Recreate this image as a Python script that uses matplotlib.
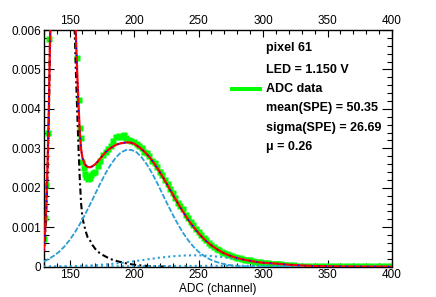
import matplotlib
matplotlib.use('Agg')
import matplotlib.pyplot as plt
from matplotlib.lines import Line2D
from matplotlib.ticker import MultipleLocator, FuncFormatter

plt.rcParams['font.family'] = ['Liberation Sans', 'DejaVu Sans']

# ADC histogram (green squares)
adc_x = [130, 131, 132, 133, 134, 156, 157, 158, 159,
         160, 161, 162, 163, 164, 165, 166, 167, 168, 170, 172, 174, 176, 178,
         180, 182, 184, 186, 188, 190, 192, 194, 196, 198, 200, 202, 204, 206,
         208, 210, 212, 214, 216, 218, 220, 222, 224, 226, 228, 230, 232, 234,
         236, 238, 240, 242, 244, 246, 248, 250, 252, 254, 256, 258, 260, 262,
         264, 266, 268, 270, 272, 274, 276, 278, 280, 282, 284, 286, 288, 290,
         292, 294, 296, 298, 300, 302, 304, 306, 308, 310, 312, 314, 316, 318,
         320, 324, 328, 332, 336, 340, 344, 348, 352, 356, 360, 364, 368, 372,
         376, 380, 384, 388, 392, 396, 400]
adc_y = [0.0007, 0.00123, 0.00207, 0.0034, 0.00577, 0.0053, 0.00423, 0.00352, 0.00326,
         0.00265, 0.0025, 0.00235, 0.00228, 0.00222, 0.00228, 0.00225, 0.00232, 0.00238,
         0.0024, 0.00255, 0.00268, 0.00282, 0.0029,
         0.00298, 0.00305, 0.00318, 0.00328, 0.00332, 0.0033, 0.00333, 0.00326, 0.00322,
         0.00318, 0.00316, 0.0031, 0.00305, 0.003,
         0.00292, 0.00287, 0.0028, 0.00268, 0.00262, 0.00252, 0.0024, 0.00232, 0.0022,
         0.0021, 0.00196, 0.00186, 0.00175, 0.00162,
         0.00154, 0.00145, 0.00132, 0.00124, 0.00113, 0.00105, 0.00096, 0.00089, 0.0008,
         0.00074, 0.00068, 0.0006, 0.00056, 0.0005,
         0.00046, 0.00042, 0.00038, 0.00035, 0.00032, 0.00029, 0.00027, 0.00025, 0.00023,
         0.00021, 0.0002, 0.00018, 0.00016, 0.00016,
         0.00014, 0.00013, 0.00012, 0.00011, 0.0001, 0.00009, 0.00009, 0.00008, 0.00007,
         0.00007, 0.00006, 0.00006, 0.00005, 0.00005,
         0.00004, 0.00004, 0.00003, 0.00003, 0.00003, 0.00002, 0.00003, 0.00002, 0.00002,
         0.00002, 0.00001, 0.00002, 0.00001, 0.00002,
         0.00001, 0.00001, 0.00002, 0.00001, 0.00001, 0.00001, 0.00001]

# total fit
fit_x = [130, 131, 132, 133, 134, 135, 136, 138, 140, 145, 150, 152, 153, 154, 155,
         156, 157, 158, 159, 160, 162, 164, 166, 168, 170, 172, 174, 176, 178, 180,
         182, 184, 186, 188, 190, 192, 194, 196, 198, 200, 204, 208, 212, 216, 220,
         224, 228, 232, 236, 240, 244, 248, 252, 256, 260, 264, 268, 272, 276, 280,
         285, 290, 295, 300, 310, 320, 330, 340, 350, 360, 380, 400]
fit_y = [0.00042, 0.00088, 0.00158, 0.0026, 0.004, 0.006, 0.0087, 0.016, 0.025, 0.035,
         0.026, 0.012, 0.0085, 0.0069, 0.0058,
         0.0049, 0.0041, 0.0034, 0.00298, 0.00276, 0.00259, 0.00253, 0.00252, 0.00255,
         0.0026, 0.00267, 0.00275, 0.00283, 0.0029, 0.00296,
         0.00301, 0.00305, 0.00309, 0.00311, 0.00313, 0.00314, 0.00315, 0.00315, 0.00314,
         0.00312, 0.00303, 0.00292, 0.00278, 0.0026, 0.0024,
         0.00218, 0.00195, 0.00172, 0.0015, 0.00129, 0.0011, 0.00093, 0.00078, 0.00065,
         0.00054, 0.00045, 0.00037, 0.00031, 0.00026, 0.00022,
         0.00018, 0.00015, 0.00012, 0.0001, 0.00008, 0.00005, 0.00003, 0.000017, 0.00001,
         0.000006, 0.000002, 0.000001]

# pedestal component
ped_x = [130, 131, 132, 133, 134, 135, 136, 138, 140, 145, 150, 152, 153, 154, 155,
         156, 157, 158, 159, 160, 161, 162, 163, 164, 166, 168, 170, 172, 175, 179,
         183, 188, 194, 200, 206, 212, 220, 230]
ped_y = [0.00028, 0.0007, 0.0014, 0.0024, 0.0038, 0.0058, 0.0085, 0.016, 0.025, 0.035,
         0.025, 0.011, 0.0077, 0.006, 0.0049,
         0.0039, 0.0030, 0.0022, 0.0016, 0.00125, 0.0011, 0.00097, 0.00085, 0.00075,
         0.00066, 0.00054, 0.00045, 0.00038, 0.00031, 0.00024,
         0.00018, 0.00013, 0.000085, 0.00005, 0.00003, 0.000015, 0.000004, 0.0]

# single photo-electron
spe_x = [130, 134, 138, 142, 146, 150, 154, 158, 162, 166, 170, 174, 178, 182, 186,
         190, 194, 198, 202, 206, 210, 214, 218, 222, 226, 230, 234, 238, 242, 246,
         250, 254, 258, 262, 266, 270, 274, 278, 282, 290, 300, 320, 400]
spe_y = [0.00013, 0.0002, 0.00028, 0.00038, 0.00051, 0.00067, 0.00086, 0.00108,
         0.00132, 0.00158, 0.00185, 0.00212, 0.00237, 0.00259, 0.00277,
         0.0029, 0.00296, 0.00296, 0.0029, 0.00277, 0.00259, 0.00237, 0.00212, 0.00185,
         0.00158, 0.00132, 0.00108, 0.00086, 0.00067, 0.00051,
         0.00038, 0.00028, 0.0002, 0.00014, 0.0001, 0.000064, 0.000042, 0.000027,
         0.000017, 0.000006, 0.0000014, 0.0, 0.0]

# two photo-electrons
pe2_x = [130, 140, 150, 160, 170, 180, 190, 200, 210, 220, 230, 240, 250, 260, 270,
         280, 290, 300, 310, 320, 330, 340, 350, 360, 370, 380, 390, 400]
pe2_y = [0.0000026, 0.0000056, 0.0000113, 0.0000215, 0.000038, 0.000063, 0.000096,
         0.000138, 0.000184, 0.000229, 0.000265, 0.000286, 0.000288, 0.000271,
         0.000237, 0.000193, 0.000147, 0.000104, 0.000069, 0.000042, 0.000024,
         0.000013, 0.0000065, 0.000003, 0.0000013, 0.0000005, 0.0000002, 0.0000001]

# three photo-electrons
pe3_x = [130, 150, 170, 190, 210, 230, 250, 270, 290, 310, 330, 350, 370, 390, 400]
pe3_y = [0.000001, 0.000003, 0.000006, 0.00001, 0.000014, 0.000018, 0.00002, 0.000022,
         0.000023, 0.000022, 0.00002, 0.000016, 0.000012, 0.000008, 0.000006]

labels = ['pixel 61', 'LED = 1.150 V', 'ADC data', 'mean(SPE) = 50.35',
          'sigma(SPE) = 26.69', '\u03bc = 0.26']

W, H = 436, 297
fig = plt.figure(figsize=(W / 100, H / 100), dpi=100)
ax = fig.add_axes([43.7 / W, 1 - 266.7 / H, (392 - 43.7) / W, (266.7 - 30) / H])

green = '#00ff00'
lblue = '#2a9fd6'

ax.plot(adc_x, adc_y, 's', color=green, ms=4, mec='none', zorder=2)
ax.plot(ped_x, ped_y, color='black', lw=1.5, dashes=(3, 1.5, 1, 1.5), zorder=3)
ax.plot(spe_x, spe_y, color=lblue, lw=1.3, dashes=(3, 1), zorder=3)
ax.plot(pe2_x, pe2_y, color=lblue, lw=1.5, dashes=(1, 1.5), zorder=3)
ax.plot(pe3_x, pe3_y, color=lblue, lw=1.5, dashes=(1, 1.5), zorder=3)
ax.plot(fit_x, fit_y, color='red', lw=1.6, zorder=4)
ax.plot(fit_x, fit_y, color='blue', lw=1.0, dashes=(1, 4), zorder=5)

ax.set_xlim(130, 400)
ax.set_ylim(0, 0.006)
ax.xaxis.set_major_locator(MultipleLocator(50))
ax.xaxis.set_minor_locator(MultipleLocator(10))
ax.yaxis.set_major_locator(MultipleLocator(0.001))
ax.yaxis.set_minor_locator(MultipleLocator(0.0002))
ax.yaxis.set_major_formatter(FuncFormatter(lambda v, p: '0' if abs(v) < 1e-9 else '%.3f' % v))

# ROOT-like ticks: inside, on all four sides, labels bottom/top/left
ax.tick_params(axis='both', which='both', direction='in', top=True, right=True,
               labeltop=True, labelsize=8.5, width=0.8)
ax.tick_params(axis='x', which='major', length=5.1, pad=2)
ax.tick_params(axis='x', which='minor', length=2.6)
ax.tick_params(axis='y', which='major', length=7.5, pad=1.5)
ax.tick_params(axis='y', which='minor', length=3.7)
for s in ax.spines.values():
    s.set_linewidth(1.0)

ax.set_xlabel('ADC (channel)', fontsize=8.5, labelpad=1)

# legend / info block
ys = [48.3, 69.7, 88.7, 107.7, 128, 147]
for txt, yy in zip(labels, ys):
    fig.text(265.7 / W, 1 - yy / H, txt, fontsize=9, fontweight='bold', va='center', ha='left')
fig.add_artist(Line2D([232.3 / W, 260 / W], [1 - 88.7 / H, 1 - 88.7 / H],
                      color=green, lw=2.9, transform=fig.transFigure))

fig.savefig('out.png', dpi=100)
